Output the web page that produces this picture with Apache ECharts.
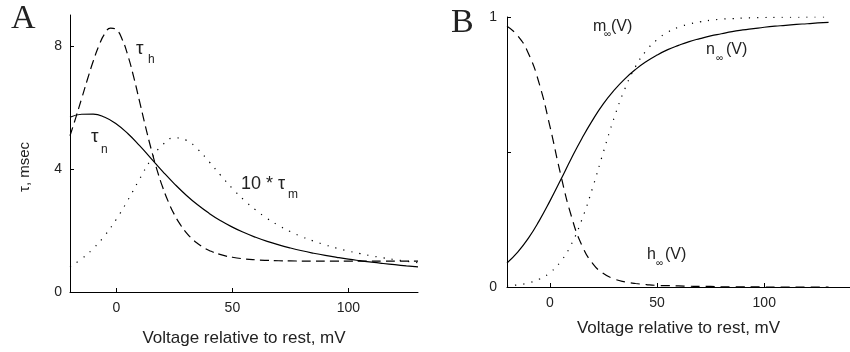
<!DOCTYPE html>
<html>
<head>
<meta charset="utf-8">
<script src="https://cdn.jsdelivr.net/npm/echarts@6/dist/echarts.min.js"></script>
<style>html,body{margin:0;padding:0;background:#fff}#c{width:850px;height:352px}</style>
</head>
<body>
<div id="c"></div>
<script>
// Voltage relative to rest (mV)
var voltage = [-20,-15,-10,-5,0,5,10,15,20,25,30,35,40,45,50,55,60,65,70,75,80,85,90,95,100,105,110,115,120,125,130];
// finer sampling used for the sharply peaked tau_h curve
var voltageH = [-20,-17.5,-15,-12.5,-10,-7.5,-5,-2.5,0,2.5,5,7.5,10,12.5,15,17.5,20,22.5,25,27.5,30,32.5,35,37.5,40,45,50,55,60,65,70,75,80,85,90,95,100,105,110,115,120,125,130];
// Panel A: time constants (msec)
var tauN = [5.675,5.776,5.782,5.677,5.459,5.141,4.755,4.335,3.913,3.515,3.152,2.832,2.554,2.314,2.108,1.931,1.778,1.645,1.530,1.429,1.339,1.260,1.189,1.126,1.068,1.017,0.969,0.926,0.887,0.850,0.817];
var tauH = [5.077,5.666,6.282,6.904,7.496,8.011,8.391,8.573,8.516,8.207,7.670,6.971,6.186,5.390,4.641,3.970,3.393,2.911,2.515,2.195,1.939,1.736,1.576,1.449,1.350,1.212,1.128,1.077,1.046,1.027,1.016,1.009,1.005,1.003,1.002,1.001,1.000,1.000,1.000,1.000,1.000,1.000,1.000];
var tauM10 = [0.820,1.078,1.412,1.839,2.368,2.991,3.669,4.310,4.790,5.007,4.935,4.642,4.230,3.786,3.364,2.989,2.666,2.391,2.159,1.962,1.796,1.653,1.530,1.423,1.330,1.248,1.175,1.110,1.052,1.000,0.952];
// Panel B: steady states
var nInf = [0.089,0.129,0.181,0.245,0.318,0.396,0.476,0.551,0.619,0.679,0.729,0.771,0.806,0.835,0.859,0.879,0.895,0.909,0.920,0.930,0.938,0.946,0.952,0.957,0.962,0.966,0.969,0.973,0.975,0.978,0.980];
var mInf = [0.004,0.008,0.015,0.029,0.053,0.094,0.158,0.251,0.369,0.501,0.627,0.734,0.817,0.876,0.916,0.944,0.962,0.974,0.982,0.988,0.992,0.994,0.996,0.997,0.998,0.999,0.999,0.999,1.000,1.000,1.000];
var hInf = [0.966,0.931,0.865,0.754,0.596,0.418,0.263,0.153,0.087,0.050,0.030,0.019,0.013,0.009,0.006,0.005,0.004,0.003,0.002,0.002,0.001,0.001,0.001,0.001,0.000,0.000,0.000,0.000,0.000,0.000,0.000];
// Tick values
var xTicks = [0, 50, 100];
var yTicksA = [0, 4, 8];
var yTicksB = [0, 0.5, 1];
var yLabelsB = [0, 1];

var FONT = 'Liberation Sans, Arial, sans-serif';
var TXT = '#222';
function pairs(xs, arr){ return xs.map(function(v,i){ return [v, arr[i]]; }); }
function lbl(text, x, base, size, extra){
  var o = {type:'text', x:x, y: base - 0.81*size, silent:true,
    style:{text:text, fontSize:size, fontFamily:FONT, fill:TXT, verticalAlign:'top', align:'left'}};
  if (extra) for (var k in extra) o.style[k]=extra[k];
  return o;
}
function axisCommon(ticks, labels){
  return {
    axisLine:{show:true, onZero:false, lineStyle:{color:'#000', width:1}},
    axisTick:{show:true, inside:true, length:4, customValues:ticks, lineStyle:{color:'#000', width:1}},
    axisLabel:{show:true, customValues:labels, color:TXT, fontSize:14, fontFamily:FONT, margin:8},
    splitLine:{show:false}
  };
}
function xAx(gi, min, max, nameGap){
  var a = axisCommon(xTicks, xTicks);
  a.type='value'; a.gridIndex=gi; a.min=min; a.max=max; a.position='bottom';
  a.name='Voltage relative to rest, mV'; a.nameLocation='middle'; a.nameGap=nameGap;
  a.nameTextStyle={color:TXT, fontSize:17, fontFamily:FONT};
  a.axisLabel.margin = 9;
  return a;
}
function yAx(gi, min, max, ticks, labels, margin){
  var a = axisCommon(ticks, labels);
  a.type='value'; a.gridIndex=gi; a.min=min; a.max=max; a.position='left';
  a.axisLabel.margin = margin;
  return a;
}
function line(xs, arr, xi, type){
  return {type:'line', xAxisIndex:xi, yAxisIndex:xi, data:pairs(xs, arr), showSymbol:false, smooth:true,
    silent:true, lineStyle:{color:'#000', width:1.2, type:type}};
}

var chart = echarts.init(document.getElementById('c'), null, {renderer:'canvas'});
chart.setOption({
  animation:false,
  backgroundColor:'#fff',
  grid:[
    {left:70, top:15, width:348, height:277},
    {left:507, top:17, width:351, height:270}
  ],
  xAxis:[ xAx(0, -20, 130, 38), xAx(1, -20, 140, 33) ],
  yAxis:[ yAx(0, 0, 9, yTicksA, yTicksA, 8), yAx(1, 0, 1, yTicksB, yLabelsB, 10) ],
  series:[
    line(voltageH, tauH, 0, [9,5]),
    line(voltage, tauN, 0, 'solid'),
    line(voltage, tauM10, 0, [1.2,7]),
    line(voltage, mInf, 1, [1.2,7]),
    line(voltage, nInf, 1, 'solid'),
    line(voltage, hInf, 1, [9,6])
  ],
  graphic:[
    lbl('A', 11, 30, 34, {fontFamily:'Liberation Serif, Times New Roman, serif'}),
    lbl('B', 451, 34, 34, {fontFamily:'Liberation Serif, Times New Roman, serif'}),
    {type:'text', x:25, y:167, rotation:Math.PI/2, silent:true,
      style:{text:'τ, msec', fontSize:15, fontFamily:FONT, fill:TXT, align:'center', verticalAlign:'middle'}},
    lbl('τ', 136, 55, 19), lbl('h', 148, 63, 12),
    lbl('τ', 91, 143, 19), lbl('n', 101, 153, 12),
    lbl('10 * τ', 241, 190, 18), lbl('m', 288, 198, 12),
    lbl('m', 593, 32, 16), lbl('∞', 604, 37, 10), lbl('(V)', 611, 32, 16),
    lbl('n', 706, 55, 16), lbl('∞', 716, 61, 10), lbl('(V)', 726, 55, 16),
    lbl('h', 647, 260, 16), lbl('∞', 656, 266, 10), lbl('(V)', 665, 260, 16)
  ]
});
</script>
</body>
</html>
